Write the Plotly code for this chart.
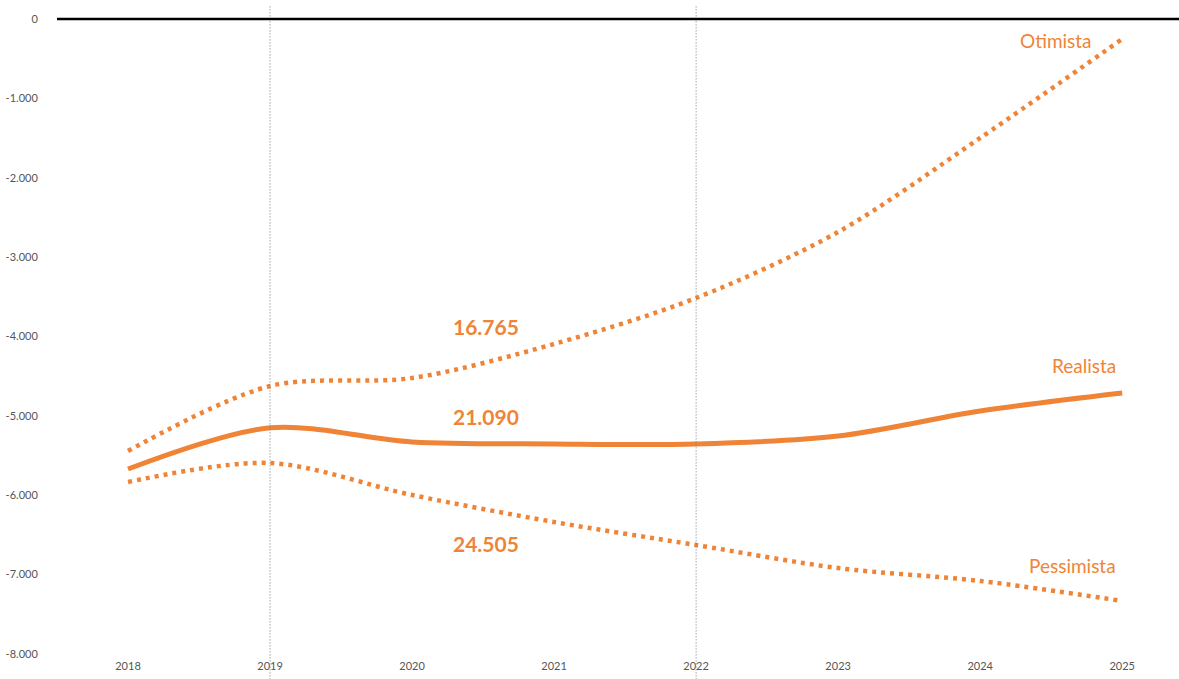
import plotly.graph_objects as go

years = [2018, 2019, 2020, 2021, 2022, 2023, 2024, 2025]
realista = [-5669, -5150, -5329, -5354, -5354, -5254, -4939, -4712]
otimista = [-5443, -4624, -4523, -4094, -3515, -2683, -1499, -252]
pessimista = [-5833, -5594, -5997, -6337, -6627, -6917, -7080, -7332]

totals = ["16.765", "21.090", "24.505"]
total_pos = [(2020.52, -3880), (2020.52, -5002), (2020.52, -6602)]
names = ["Otimista", "Realista", "Pessimista"]
name_pos = [(2024.80, -277), (2024.97, -4359), (2024.97, -6879)]
marker_years = [2019, 2022]

yticks = [0, -1000, -2000, -3000, -4000, -5000, -6000, -7000, -8000]
yticktext = ["0", "-1.000", "-2.000", "-3.000", "-4.000", "-5.000", "-6.000", "-7.000", "-8.000"]

ORANGE = "#EF8437"

fig = go.Figure()
fig.add_trace(go.Scatter(x=years, y=otimista, mode="lines",
                         line=dict(color=ORANGE, width=4.5, dash="4px,5px", shape="spline", smoothing=0.9)))
fig.add_trace(go.Scatter(x=years, y=pessimista, mode="lines",
                         line=dict(color=ORANGE, width=4.5, dash="4px,5px", shape="spline", smoothing=0.9)))
fig.add_trace(go.Scatter(x=years, y=realista, mode="lines",
                         line=dict(color=ORANGE, width=5, shape="spline", smoothing=0.9)))

for t, (x, y) in zip(totals, total_pos):
    fig.add_annotation(x=x, y=y, text=f"<b>{t}</b>", showarrow=False,
                       font=dict(family="Lato", size=21, color=ORANGE))
for t, (x, y) in zip(names, name_pos):
    fig.add_annotation(x=x, y=y, text=t, showarrow=False, xanchor="right",
                       font=dict(family="Lato", size=19, color=ORANGE))

for yr in marker_years:
    fig.add_shape(type="line", xref="x", yref="paper", x0=yr, x1=yr, y0=-0.04, y1=1.022,
                  line=dict(color="#777777", width=1, dash="1px,2px"), layer="above")

fig.add_shape(type="line", xref="paper", yref="paper", x0=0, x1=1.02, y0=1, y1=1,
              line=dict(color="black", width=2.5), layer="above")

fig.update_layout(
    width=1179, height=679,
    margin=dict(l=57, r=0, t=19, b=25),
    plot_bgcolor="white", paper_bgcolor="white",
    showlegend=False,
    font=dict(family="Lato", color="#555555", size=11),
    xaxis=dict(range=[2017.5, 2025.40], tickmode="array", tickvals=years,
               ticktext=[str(y) for y in years], showgrid=False, zeroline=False,
               showline=False, ticks="outside", ticklen=2, tickcolor="rgba(0,0,0,0)",
               tickfont=dict(size=11, color="#555555")),
    yaxis=dict(range=[-8000, 0], tickmode="array", tickvals=yticks, ticktext=yticktext,
               showgrid=False, zeroline=False, showline=False,
               ticks="outside", ticklen=16, tickcolor="rgba(0,0,0,0)",
               tickfont=dict(size=11, color="#555555")),
)

fig.write_html("out.html")
